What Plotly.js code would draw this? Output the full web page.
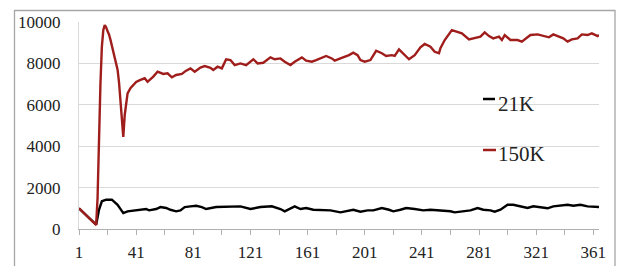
<!DOCTYPE html>
<html>
<head>
<meta charset="utf-8">
<script src="https://cdn.plot.ly/plotly-3.0.1.min.js"></script>
<style>html,body{margin:0;padding:0;background:#fff;}#chart{width:617px;height:266px;}</style>
</head>
<body>
<div id="chart"></div>
<script>
// Series 150K (day index, value)
const days150K = [1,4,7,10,13,14,15,16,17,18,19,20,21,22,23,24,25,26,27,28,29,30,31,32,33,34,35,37,39,41,44,47,49,53,56,60,63,66,69,73,76,79,82,86,89,93,95,98,101,104,107,110,114,118,123,126,130,135,138,142,145,149,152,157,160,164,167,171,174,178,180,184,187,190,193,196,198,201,205,209,213,216,220,222,225,228,232,236,240,243,247,250,253,254,257,262,266,269,274,278,282,285,288,291,295,297,299,303,308,311,313,317,322,326,330,333,337,340,343,346,350,353,357,360,364,365];
const values150K = [1000,800,580,380,200,1500,4500,7000,8800,9600,9850,9750,9550,9400,9150,8850,8600,8320,8000,7700,7100,6230,5000,4450,5500,6200,6550,6800,6950,7100,7200,7280,7110,7360,7600,7490,7520,7330,7440,7490,7650,7760,7600,7800,7870,7790,7680,7840,7760,8200,8160,7920,8000,7920,8200,8000,8030,8290,8200,8240,8080,7920,8080,8290,8130,8080,8160,8290,8360,8240,8130,8240,8320,8400,8520,8400,8160,8080,8160,8610,8490,8360,8400,8360,8680,8490,8200,8400,8780,8940,8810,8560,8490,8730,9130,9610,9530,9450,9160,9210,9290,9500,9320,9210,9290,9130,9370,9130,9130,9050,9160,9370,9400,9320,9260,9400,9290,9210,9050,9160,9210,9400,9370,9450,9320,9370];

// Series 21K (day index, value)
const days21K = [1,4,7,10,13,15,17,20,24,28,32,35,39,43,48,50,55,58,62,65,69,72,75,79,83,87,90,97,104,114,121,128,136,142,145,149,152,156,160,165,170,177,184,188,193,198,203,207,213,218,221,226,230,236,242,247,254,261,264,269,275,280,284,289,292,296,301,305,310,315,319,324,329,333,338,343,347,352,357,361,365];
const values21K = [1000,800,580,380,210,930,1340,1415,1415,1170,770,855,900,930,965,900,965,1060,1015,930,855,900,1060,1095,1125,1060,965,1060,1060,1095,965,1060,1095,965,855,1000,1095,965,1015,930,930,900,805,855,930,835,900,900,1015,930,855,930,1015,965,900,930,900,855,805,855,900,1015,930,900,835,930,1170,1170,1095,1015,1095,1060,1000,1095,1125,1170,1125,1170,1095,1060,1060];

const seriesNames = ["21K", "150K"];
const xTickVals = [1,41,81,121,161,201,241,281,321,361];
const xTickText = ["1","41","81","121","161","201","241","281","321","361"];
const yTickVals = [0,2000,4000,6000,8000,10000];
const yTickText = ["0","2000","4000","6000","8000","10000"];

const BLACK = "#000000";
const RED = "#9F1E1C";
const serif = "Liberation Serif, Times New Roman, serif";

const traces = [
  {x: days21K, y: values21K, name: seriesNames[0], type: "scatter", mode: "lines",
   line: {color: BLACK, width: 2.4}, hoverinfo: "skip"},
  {x: days150K, y: values150K, name: seriesNames[1], type: "scatter", mode: "lines",
   line: {color: RED, width: 2.4}, hoverinfo: "skip"}
];

function px2x(p){ return (p - 79) / 520; }
function px2y(p){ return (229 - p) / 207; }

const layout = {
  width: 617, height: 266,
  margin: {l: 79, r: 18, t: 22, b: 37, pad: 0},
  paper_bgcolor: "#ffffff", plot_bgcolor: "#ffffff",
  showlegend: false,
  font: {family: serif, size: 17, color: "#222"},
  xaxis: {
    range: [1, 365], autorange: false,
    tickmode: "array", tickvals: xTickVals, ticktext: xTickText,
    ticks: "outside", ticklen: 5, tickwidth: 1, tickcolor: "#b0b0b0",
    minor: {tick0: 1, dtick: 20, ticks: "outside", ticklen: 5, tickwidth: 1, tickcolor: "#b0b0b0", showgrid: false},
    showgrid: false, zeroline: false,
    showline: true, linecolor: "#b0b0b0", linewidth: 1,
    ticklabelstandoff: 3,
    tickfont: {family: serif, size: 17, color: "#222"}
  },
  yaxis: {
    range: [0, 10000], autorange: false,
    tickmode: "array", tickvals: yTickVals, ticktext: yTickText,
    ticks: "", showgrid: true, gridcolor: "#d9d9d9", gridwidth: 1,
    zeroline: false, showline: true, linecolor: "#d9d9d9", linewidth: 1,
    ticklabelstandoff: 14,
    tickfont: {family: serif, size: 17, color: "#222"}
  },
  shapes: [
    {type: "rect", xref: "paper", yref: "paper", layer: "below",
     x0: px2x(14.5), x1: px2x(615), y0: px2y(290), y1: px2y(10.5),
     line: {color: "#a6a6a6", width: 1.3}, fillcolor: "rgba(0,0,0,0)"},
    {type: "rect", xref: "paper", yref: "paper", layer: "between",
     x0: px2x(470), x1: px2x(562), y0: px2y(172), y1: px2y(80),
     line: {width: 0}, fillcolor: "#ffffff"},
    {type: "line", xref: "paper", yref: "paper", layer: "above",
     x0: px2x(483), x1: px2x(495), y0: px2y(99), y1: px2y(99),
     line: {color: BLACK, width: 2.5}},
    {type: "line", xref: "paper", yref: "paper", layer: "above",
     x0: px2x(483), x1: px2x(496), y0: px2y(150), y1: px2y(150),
     line: {color: RED, width: 2.5}}
  ],
  annotations: [
    {text: seriesNames[0], xref: "paper", yref: "paper", x: px2x(496), y: px2y(104),
     xanchor: "left", yanchor: "middle", showarrow: false,
     font: {family: serif, size: 21, color: "#222"}},
    {text: seriesNames[1], xref: "paper", yref: "paper", x: px2x(496), y: px2y(154),
     xanchor: "left", yanchor: "middle", showarrow: false,
     font: {family: serif, size: 21, color: "#222"}}
  ]
};

Plotly.newPlot("chart", traces, layout, {staticPlot: true, displayModeBar: false});
</script>
</body>
</html>
